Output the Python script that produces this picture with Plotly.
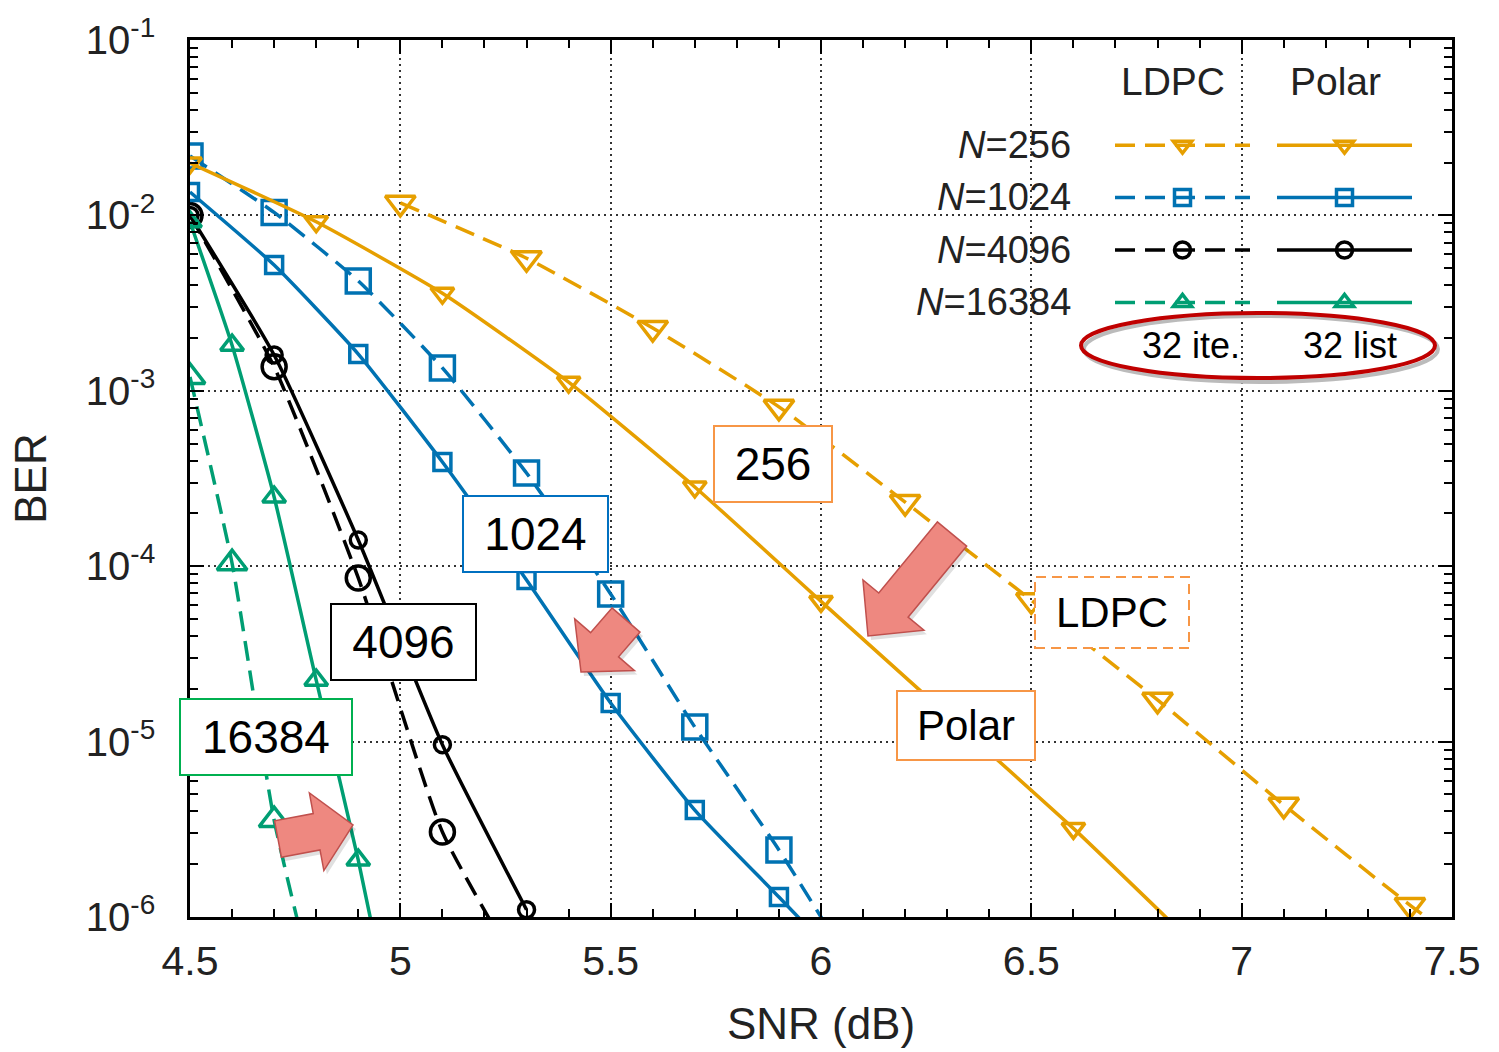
import math
import plotly.graph_objects as go

# ---------------- data ----------------
snr_ldpc_256 = [5.0, 5.3, 5.6, 5.9, 6.2, 6.5, 6.8, 7.1, 7.4, 7.7]
ber_ldpc_256 = [1.18e-2, 5.7e-3, 2.28e-3, 8.1e-4, 2.32e-4, 6.4e-5, 1.73e-5, 4.36e-6, 1.17e-6, 3.5e-7]

snr_polar_256 = [4.5, 4.8, 5.1, 5.4, 5.7, 6.0, 6.3, 6.6, 6.9]
ber_polar_256 = [1.99e-2, 9.2e-3, 3.6e-3, 1.12e-3, 2.83e-4, 6.3e-5, 1.42e-5, 3.2e-6, 6.5e-7]

snr_ldpc_1024 = [4.5, 4.7, 4.9, 5.1, 5.3, 5.5, 5.7, 5.9, 6.1]
ber_ldpc_1024 = [2.18e-2, 1.04e-2, 4.23e-3, 1.35e-3, 3.4e-4, 6.95e-5, 1.21e-5, 2.41e-6, 4.1e-7]

snr_polar_1024 = [4.5, 4.7, 4.9, 5.1, 5.3, 5.5, 5.7, 5.9, 6.1]
ber_polar_1024 = [1.36e-2, 5.21e-3, 1.62e-3, 3.93e-4, 8.34e-5, 1.66e-5, 4.07e-6, 1.30e-6, 4.1e-7]

snr_ldpc_4096 = [4.5, 4.7, 4.9, 5.1, 5.3]
ber_ldpc_4096 = [1.0e-2, 1.37e-3, 8.57e-5, 3.05e-6, 4.2e-7]

snr_polar_4096 = [4.5, 4.7, 4.9, 5.1, 5.3]
ber_polar_4096 = [1.0e-2, 1.6e-3, 1.41e-4, 9.6e-6, 1.10e-6]

snr_ldpc_16384 = [4.5, 4.6, 4.7, 4.8]
ber_ldpc_16384 = [1.2e-3, 1.04e-4, 3.57e-6, 3.5e-7]

snr_polar_16384 = [4.5, 4.6, 4.7, 4.8, 4.9, 5.0]
ber_polar_16384 = [9.2e-3, 1.82e-3, 2.48e-4, 2.24e-5, 2.11e-6, 1.5e-7]

block_lengths = ["256", "1024", "4096", "16384"]
x_tickvals = [4.5, 5, 5.5, 6, 6.5, 7, 7.5]
x_ticktext = ["4.5", "5", "5.5", "6", "6.5", "7", "7.5"]
y_tickvals = [1e-6, 1e-5, 1e-4, 1e-3, 1e-2, 1e-1]
y_ticktext = ["10<sup>-6</sup>", "10<sup>-5</sup>", "10<sup>-4</sup>",
              "10<sup>-3</sup>", "10<sup>-2</sup>", "10<sup>-1</sup>"]

# ---------------- styles ----------------
ORANGE = "#E69F00"
BLUE = "#0072B2"
BLACK = "#000000"
GREEN = "#009E73"
FONT = "Liberation Sans, Arial, Helvetica, sans-serif"

W, H = 1499, 1052
L, R, T, B = 190, 1452, 40, 917


def pxx(p):
    return (p - L) / (R - L)


def pxy(p):
    return (B - p) / (B - T)


series = [
    ("256", snr_ldpc_256, ber_ldpc_256, snr_polar_256, ber_polar_256, ORANGE, "triangle-down-open", 26, 20),
    ("1024", snr_ldpc_1024, ber_ldpc_1024, snr_polar_1024, ber_polar_1024, BLUE, "square-open", 24, 17),
    ("4096", snr_ldpc_4096, ber_ldpc_4096, snr_polar_4096, ber_polar_4096, BLACK, "circle-open", 24, 16),
    ("16384", snr_ldpc_16384, ber_ldpc_16384, snr_polar_16384, ber_polar_16384, GREEN, "triangle-up-open", 26, 20),
]

fig = go.Figure()

for n, xl, yl, xp, yp, col, sym, sl, sp in series:
    fig.add_trace(go.Scatter(
        x=xl, y=yl, mode="lines+markers", name="",
        legend="legend", legendgroup="ldpc" + n,
        line=dict(color=col, width=3.5, dash="20px,10px", shape="spline", smoothing=0.5),
        marker=dict(symbol=sym, size=sl, color=col, line=dict(width=3.5, color=col)),
        hovertemplate="LDPC N=" + n + "<br>SNR %{x} dB<br>BER %{y:.2e}<extra></extra>",
    ))
for n, xl, yl, xp, yp, col, sym, sl, sp in series:
    fig.add_trace(go.Scatter(
        x=xp, y=yp, mode="lines+markers", name="",
        legend="legend2", legendgroup="polar" + n,
        line=dict(color=col, width=3.5, shape="spline", smoothing=0.5),
        marker=dict(symbol=sym, size=sp, color=col, line=dict(width=3.5, color=col)),
        hovertemplate="Polar N=" + n + "<br>SNR %{x} dB<br>BER %{y:.2e}<extra></extra>",
    ))

shapes = []
annotations = []


def note(text, x, y, size, xanchor="center", **kw):
    d = dict(text=text, x=pxx(x), y=pxy(y), xref="paper", yref="paper",
             xanchor=xanchor, yanchor="middle", showarrow=False,
             font=dict(size=size, family=FONT, color=kw.pop("color", "#222")))
    d.update(kw)
    annotations.append(d)


# white key background (covers grid lines)
shapes.append(dict(type="rect", xref="paper", yref="paper",
                   x0=pxx(1100), x1=pxx(1440), y0=pxy(385), y1=pxy(46),
                   fillcolor="white", line=dict(width=0), layer="between"))

# key headers and row labels
note("LDPC", 1173, 81, 39)
note("Polar", 1335, 81, 39)
for i, n in enumerate(block_lengths):
    note("<i>N</i>=" + n, 1073, 145 + 52.4 * i, 38, xanchor="right")

# ellipse with "32 ite." / "32 list"
shapes.append(dict(type="circle", xref="paper", yref="paper",
                   x0=pxx(1084), x1=pxx(1438), y0=pxy(382), y1=pxy(316),
                   line=dict(color="#BBBBBB", width=4)))
shapes.append(dict(type="circle", xref="paper", yref="paper",
                   x0=pxx(1081), x1=pxx(1435), y0=pxy(378), y1=pxy(313),
                   line=dict(color="#C00000", width=4)))
note("32 ite.", 1191, 345, 36, color="black")
note("32 list", 1350, 345, 36, color="black")

# labelled boxes
boxes = [
    ("256", 773, 464, 120, 78, "#F79646", 46),
    ("1024", 535, 534, 147, 78, "#0070C0", 46),
    ("4096", 403, 642, 147, 78, "#000000", 46),
    ("16384", 266, 737, 174, 78, "#00B050", 46),
    ("Polar", 966, 725, 140, 71, "#F79646", 42),
]
for txt, cx, cy, bw, bh, bc, fs in boxes:
    note(txt, cx, cy, fs, color="black", width=bw - 6, height=bh - 6, borderpad=1,
         bgcolor="white", bordercolor=bc, borderwidth=2)
# dashed LDPC box
shapes.append(dict(type="rect", xref="paper", yref="paper",
                   x0=pxx(1035), x1=pxx(1189), y0=pxy(648), y1=pxy(577),
                   fillcolor="white", line=dict(color="#F79646", width=2, dash="10px,6px"),
                   layer="above"))
note("LDPC", 1112, 612, 42, color="black")


# block arrows (decorations)
def block_arrow(tail, tip, shaft_w, head_w, head_len):
    dx, dy = tip[0] - tail[0], tip[1] - tail[1]
    ln = math.hypot(dx, dy)
    ux, uy = dx / ln, dy / ln
    nx, ny = -uy, ux
    bx, by = tip[0] - ux * head_len, tip[1] - uy * head_len
    pts = [
        (tail[0] + nx * shaft_w / 2, tail[1] + ny * shaft_w / 2),
        (bx + nx * shaft_w / 2, by + ny * shaft_w / 2),
        (bx + nx * head_w / 2, by + ny * head_w / 2),
        tip,
        (bx - nx * head_w / 2, by - ny * head_w / 2),
        (bx - nx * shaft_w / 2, by - ny * shaft_w / 2),
        (tail[0] - nx * shaft_w / 2, tail[1] - ny * shaft_w / 2),
    ]
    return "M " + " L ".join(f"{pxx(x):.5f},{pxy(y):.5f}" for x, y in pts) + " Z"


arrows = [
    ((952, 534), (868, 636), 38, 79, 40),
    ((626, 620), (581, 672), 37, 79, 36),
    ((278, 839), (353, 825), 37, 79, 37),
]
for tail, tip, sw, hw, hl in arrows:
    shadow = block_arrow((tail[0] + 3, tail[1] + 4), (tip[0] + 3, tip[1] + 4), sw, hw, hl)
    shapes.append(dict(type="path", xref="paper", yref="paper", path=shadow,
                       fillcolor="rgba(0,0,0,0.12)", line=dict(width=0), layer="above"))
    shapes.append(dict(type="path", xref="paper", yref="paper",
                       path=block_arrow(tail, tip, sw, hw, hl),
                       fillcolor="#EE8880", line=dict(color="#C0504D", width=1.5), layer="above"))

minor_x = [round(4.5 + 0.1 * k, 2) for k in range(31)]
minor_y = [m * 10 ** e for e in range(-6, -1) for m in range(2, 10)]

fig.update_layout(
    width=W, height=H, autosize=False,
    margin=dict(l=L, r=W - R, t=T, b=H - B, pad=0),
    paper_bgcolor="white", plot_bgcolor="white",
    font=dict(family=FONT, color="#222"),
    showlegend=True,
    legend=dict(x=pxx(1110), y=pxy(114), xanchor="left", yanchor="top",
                bgcolor="rgba(0,0,0,0)", borderwidth=0, font=dict(size=38, family=FONT),
                itemwidth=135, tracegroupgap=0, itemclick=False, itemdoubleclick=False),
    legend2=dict(x=pxx(1272), y=pxy(114), xanchor="left", yanchor="top",
                 bgcolor="rgba(0,0,0,0)", borderwidth=0, font=dict(size=38, family=FONT),
                 itemwidth=135, tracegroupgap=0, itemclick=False, itemdoubleclick=False),
    shapes=shapes,
    annotations=annotations,
    xaxis=dict(
        range=[4.5, 7.5], tickmode="array", tickvals=x_tickvals, ticktext=x_ticktext,
        ticks="inside", ticklen=14, tickwidth=2, tickcolor="black",
        minor=dict(tickmode="array", tickvals=minor_x, ticks="inside", ticklen=8,
                   tickwidth=1.5, tickcolor="black", showgrid=False),
        mirror="allticks", showline=True, linecolor="black", linewidth=2.5,
        showgrid=True, gridcolor="#333333", gridwidth=1.5, griddash="2px,4px",
        zeroline=False, tickfont=dict(size=41, family=FONT, color="#222"),
        ticklabelstandoff=6,
        title=dict(text="SNR (dB)", font=dict(size=44, family=FONT, color="#222"), standoff=26),
    ),
    yaxis=dict(
        type="log", range=[-6, -1], tickmode="array", tickvals=y_tickvals, ticktext=y_ticktext,
        ticks="inside", ticklen=14, tickwidth=2, tickcolor="black",
        minor=dict(tickmode="array", tickvals=minor_y, ticks="inside", ticklen=8,
                   tickwidth=1.5, tickcolor="black", showgrid=False),
        mirror="allticks", showline=True, linecolor="black", linewidth=2.5,
        showgrid=True, gridcolor="#333333", gridwidth=1.5, griddash="2px,4px",
        zeroline=False, tickfont=dict(size=40, family=FONT, color="#222"),
        ticklabelstandoff=24,
        title=dict(text="BER", font=dict(size=44, family=FONT, color="#222"), standoff=26),
    ),
)

fig.write_html("out.html")
